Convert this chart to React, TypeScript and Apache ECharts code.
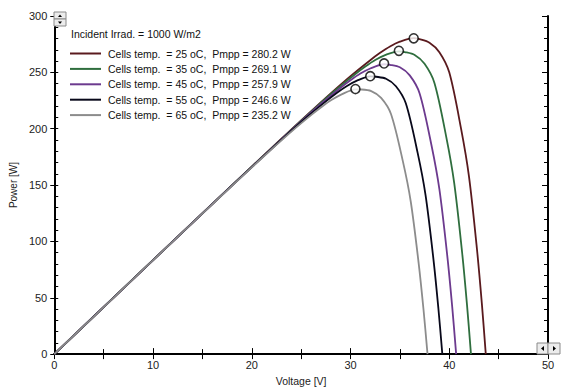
import React, { useEffect, useRef } from "react";
import * as echarts from "echarts";

const temps = [25, 35, 45, 55, 65];
const pmpp = [280.2, 269.1, 257.9, 246.6, 235.2];
const vmpp = [36.4, 34.9, 33.4, 32.0, 30.5];
const colors = ["#5a1a1e", "#2f6e3e", "#6c3a8e", "#08081a", "#8c8c8c"];

const v25 = [0, 10.0, 20.0, 25.0, 28.0, 30.0, 32.0, 33.0, 34.0, 35.0, 36.4, 37.0, 38.0, 39.0, 40.0, 41.2, 42.0, 42.8, 43.3, 43.7];
const p25 = [0, 83.4, 166.4, 207.3, 231.3, 246.6, 260.8, 267.3, 273.0, 277.2, 280.3, 279.4, 276.3, 267.9, 250.0, 199.8, 157.5, 93.7, 45.0, 0];
const v35 = [0, 8.5, 18.5, 23.5, 26.5, 28.5, 30.5, 31.5, 32.5, 33.5, 34.9, 35.5, 36.5, 37.5, 38.5, 39.7, 40.5, 41.3, 41.8, 42.2];
const p35 = [0, 70.9, 153.9, 194.8, 218.9, 234.3, 248.6, 255.2, 261.0, 265.3, 268.7, 268.0, 265.4, 257.6, 240.6, 192.5, 151.9, 90.4, 43.5, 0];
const v45 = [0, 7.0, 17.0, 22.0, 25.0, 27.0, 29.0, 30.0, 31.0, 32.0, 33.4, 34.0, 35.0, 36.0, 37.0, 38.2, 39.0, 39.8, 40.3, 40.7];
const p45 = [0, 58.4, 141.4, 182.4, 206.5, 221.9, 236.4, 243.0, 248.9, 253.4, 257.2, 256.7, 254.5, 247.3, 231.3, 185.3, 146.3, 87.2, 41.9, 0];
const v55 = [0, 5.6, 15.6, 20.6, 23.6, 25.6, 27.6, 28.6, 29.6, 30.6, 32.0, 32.6, 33.6, 34.6, 35.6, 36.8, 37.6, 38.4, 38.9, 39.3];
const p55 = [0, 46.7, 129.8, 170.8, 194.9, 210.4, 224.9, 231.7, 237.7, 242.4, 246.4, 246.1, 244.3, 237.7, 222.5, 178.5, 141.0, 84.1, 40.5, 0];
const v65 = [0, 4.1, 14.1, 19.1, 22.1, 24.1, 26.1, 27.1, 28.1, 29.1, 30.5, 31.1, 32.1, 33.1, 34.1, 35.3, 36.1, 36.9, 37.4, 37.8];
const p65 = [0, 34.2, 117.3, 158.3, 182.5, 198.1, 212.7, 219.5, 225.6, 230.5, 234.9, 234.8, 233.4, 227.4, 213.1, 171.2, 135.4, 80.8, 38.9, 0];

const voltages = [v25, v35, v45, v55, v65];
const powers = [p25, p35, p45, p55, p65];

const irradText = "Incident Irrad. = 1000 W/m2";
const xName = "Voltage [V]";
const yName = "Power [W]";

const FONT = "'Liberation Sans', Arial, sans-serif";

function seriesName(i: number) {
  return `Cells temp.  = ${temps[i]} oC,  Pmpp = ${pmpp[i].toFixed(1)} W`;
}

export default function App() {
  const ref = useRef<HTMLDivElement>(null);
  useEffect(() => {
    if (!ref.current) return;
    const chart = echarts.init(ref.current, null, { renderer: "svg" });
    const lineSeries = temps.map((_, i) => ({
      type: "line",
      name: seriesName(i),
      data: voltages[i].map((v, j) => [v, powers[i][j]]),
      symbol: "none",
      smooth: 0.3,
      lineStyle: { color: colors[i], width: 1.8 },
      itemStyle: { color: colors[i] },
      z: 2 + i,
    }));
    const mppSeries = {
      type: "scatter",
      name: "mpp",
      data: vmpp.map((v, i) => [v, pmpp[i]]),
      symbol: "circle",
      symbolSize: 9,
      itemStyle: { color: "#ffffff", borderColor: "#000000", borderWidth: 1.6 },
      z: 10,
    };
    const legendItems: any[] = [];
    temps.forEach((_, i) => {
      const y = 53.5 + 15.4 * i;
      legendItems.push({
        type: "line",
        shape: { x1: 70, y1: y, x2: 101, y2: y },
        style: { stroke: colors[i], lineWidth: 2 },
        z: 20,
      });
      legendItems.push({
        type: "text",
        x: 108,
        y: y,
        style: {
          text: seriesName(i),
          fontFamily: FONT,
          fontSize: 10.5,
          fill: "#111",
          verticalAlign: "middle",
          textAlign: "left",
        },
        z: 20,
      });
    });
    const axisFont = { fontFamily: FONT, fontSize: 11, color: "#222" };
    chart.setOption({
      animation: false,
      backgroundColor: "#ffffff",
      grid: { left: 52, right: 20, top: 16, bottom: 35, containLabel: false },
      xAxis: [
        {
          type: "value",
          position: "bottom",
          min: 0,
          max: 50,
          interval: 10,
          name: xName,
          nameLocation: "middle",
          nameGap: 19,
          nameTextStyle: { fontFamily: FONT, fontSize: 10.5, color: "#222" },
          axisLine: { show: true, lineStyle: { color: "#000", width: 2 } },
          axisTick: { show: true, inside: true, length: 6, lineStyle: { color: "#000", width: 1 } },
          minorTick: { show: true, splitNumber: 2, length: 5, lineStyle: { color: "#000", width: 1 } },
          axisLabel: { ...axisFont, margin: 5 },
          splitLine: { show: false },
        },
        {
          type: "value",
          position: "top",
          min: 0,
          max: 50,
          interval: 5,
          axisLine: { show: true, lineStyle: { color: "#000", width: 2 } },
          axisTick: { show: true, inside: true, length: 5, lineStyle: { color: "#000", width: 1 } },
          axisLabel: { show: false },
          splitLine: { show: false },
        },
      ],
      yAxis: [
        {
          type: "value",
          position: "left",
          min: 0,
          max: 300,
          interval: 50,
          name: yName,
          nameLocation: "middle",
          nameGap: 30,
          nameTextStyle: { fontFamily: FONT, fontSize: 10, color: "#222" },
          axisLine: { show: true, lineStyle: { color: "#000", width: 2 } },
          axisTick: { show: true, inside: false, length: 4, lineStyle: { color: "#000", width: 1 } },
          axisLabel: { ...axisFont, margin: 7 },
          splitLine: { show: false },
        },
        {
          type: "value",
          position: "left",
          min: 0,
          max: 300,
          interval: 10,
          axisLine: { show: false },
          axisTick: { show: true, inside: true, length: 4, lineStyle: { color: "#000", width: 1 } },
          axisLabel: { show: false },
          splitLine: { show: false },
        },
        {
          type: "value",
          position: "right",
          min: 0,
          max: 300,
          interval: 50,
          axisLine: { show: true, lineStyle: { color: "#000", width: 2 } },
          axisTick: { show: true, inside: true, length: 6, lineStyle: { color: "#000", width: 1 } },
          minorTick: { show: true, splitNumber: 5, length: 4, lineStyle: { color: "#000", width: 1 } },
          axisLabel: { show: false },
          splitLine: { show: false },
        },
      ],
      graphic: [
        {
          type: "text",
          x: 71,
          y: 34,
          style: { text: irradText, fontFamily: FONT, fontSize: 10.5, fill: "#111", verticalAlign: "middle" },
          z: 20,
        },
        ...legendItems,
        { type: "rect", shape: { x: 54, y: 12, width: 12, height: 7 }, style: { fill: "#ececec", stroke: "#8a8a8a", lineWidth: 1 }, z: 30 },
        { type: "rect", shape: { x: 54, y: 19, width: 12, height: 7 }, style: { fill: "#ececec", stroke: "#8a8a8a", lineWidth: 1 }, z: 30 },
        { type: "polygon", shape: { points: [[58, 17], [62, 17], [60, 14.5]] }, style: { fill: "#000" }, z: 31 },
        { type: "polygon", shape: { points: [[58, 21.5], [62, 21.5], [60, 24]] }, style: { fill: "#000" }, z: 31 },
        { type: "rect", shape: { x: 537, y: 343, width: 11, height: 11 }, style: { fill: "#ececec", stroke: "#8a8a8a", lineWidth: 1 }, z: 30 },
        { type: "rect", shape: { x: 548, y: 343, width: 12, height: 11 }, style: { fill: "#ececec", stroke: "#8a8a8a", lineWidth: 1 }, z: 30 },
        { type: "polygon", shape: { points: [[544, 346], [544, 351], [541, 348.5]] }, style: { fill: "#000" }, z: 31 },
        { type: "polygon", shape: { points: [[553, 346], [553, 351], [556, 348.5]] }, style: { fill: "#000" }, z: 31 },
      ],
      series: [...lineSeries, mppSeries],
    });
    return () => chart.dispose();
  }, []);
  return <div ref={ref} style={{ position: "fixed", left: 0, top: 0, width: 568, height: 391 }} />;
}
